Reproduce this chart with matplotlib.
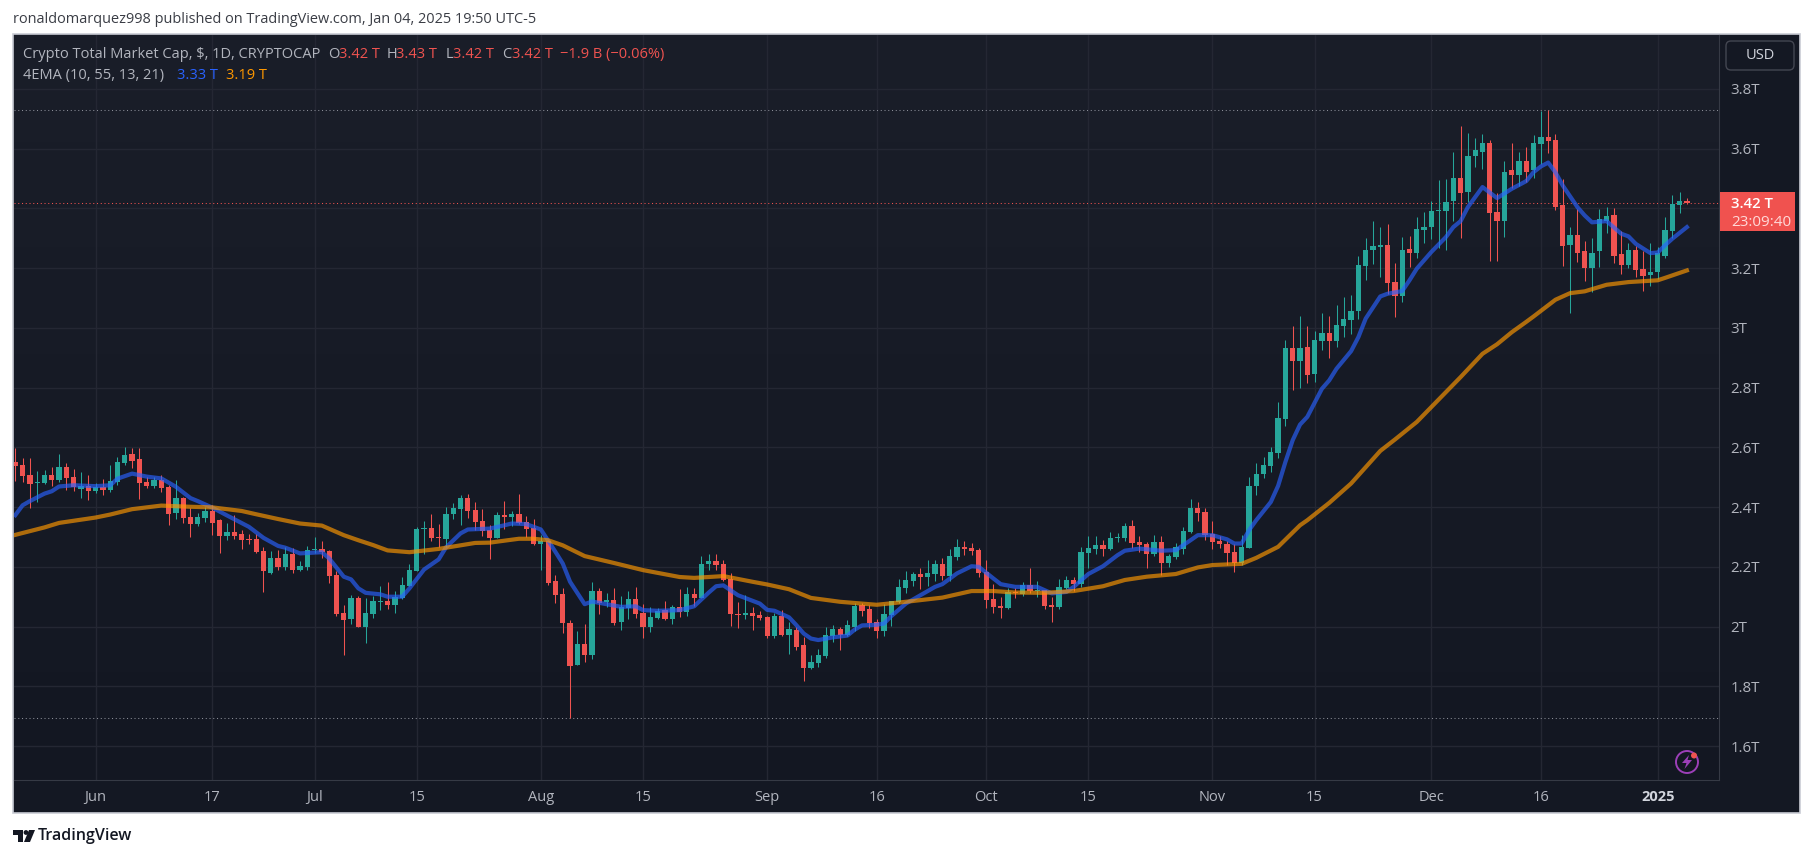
import numpy as np
import pandas as pd
import matplotlib
matplotlib.use("Agg")
import matplotlib.pyplot as plt
from matplotlib.colors import to_rgb
from matplotlib.patches import Circle, FancyBboxPatch, Polygon, Rectangle

plt.rcParams["font.family"] = ["Open Sans", "DejaVu Sans"]

# daily candles in trillions of USD, first candle 2024-05-21
START = "2024-05-21"
OPEN = [
    2.550, 2.540, 2.507, 2.480, 2.480, 2.507, 2.490, 2.534, 2.500, 2.460,
    2.470, 2.453, 2.467, 2.457, 2.483, 2.547, 2.577, 2.560, 2.483, 2.470,
    2.490, 2.467, 2.380, 2.430, 2.366, 2.343, 2.363, 2.386, 2.356, 2.303,
    2.316, 2.309, 2.293, 2.293, 2.252, 2.179, 2.229, 2.199, 2.243, 2.189,
    2.199, 2.256, 2.259, 2.252, 2.172, 2.045, 2.025, 2.095, 1.998, 2.042,
    2.083, 2.085, 2.072, 2.095, 2.135, 2.186, 2.327, 2.329, 2.299, 2.293,
    2.376, 2.393, 2.430, 2.390, 2.353, 2.323, 2.296, 2.373, 2.366, 2.376,
    2.349, 2.329, 2.276, 2.286, 2.152, 2.109, 2.012, 1.871, 1.941, 1.905,
    2.119, 2.082, 2.089, 2.015, 2.062, 2.092, 2.045, 1.998, 2.028, 2.055,
    2.025, 2.065, 2.048, 2.109, 2.095, 2.209, 2.219, 2.209, 2.159, 2.042,
    2.038, 2.045, 2.038, 2.032, 1.968, 2.035, 1.971, 1.988, 1.938, 1.861,
    1.878, 1.901, 1.968, 1.992, 1.971, 1.998, 2.072, 2.058, 2.015, 1.985,
    2.038, 2.082, 2.129, 2.152, 2.175, 2.165, 2.175, 2.209, 2.169, 2.232,
    2.266, 2.263, 2.256, 2.182, 2.092, 2.069, 2.062, 2.115, 2.109, 2.139,
    2.119, 2.122, 2.072, 2.065, 2.129, 2.155, 2.142, 2.246, 2.259, 2.273,
    2.259, 2.296, 2.296, 2.336, 2.283, 2.276, 2.242, 2.283, 2.212, 2.232,
    2.259, 2.316, 2.396, 2.383, 2.309, 2.286, 2.276, 2.249, 2.212, 2.262,
    2.470, 2.510, 2.537, 2.580, 2.694, 2.931, 2.888, 2.935, 2.844, 2.955,
    2.982, 2.955, 3.005, 3.025, 3.055, 3.206, 3.259, 3.269, 3.276, 3.152,
    3.105, 3.263, 3.252, 3.326, 3.336, 3.390, 3.390, 3.423, 3.503, 3.453,
    3.574, 3.590, 3.620, 3.386, 3.359, 3.527, 3.513, 3.557, 3.527, 3.614,
    3.640, 3.627, 3.410, 3.276, 3.309, 3.256, 3.199, 3.256, 3.359, 3.376,
    3.246, 3.209, 3.262, 3.196, 3.176, 3.186, 3.239, 3.323, 3.410, 3.423,
]
HIGH = [
    2.599, 2.563, 2.563, 2.520, 2.524, 2.534, 2.577, 2.547, 2.527, 2.517,
    2.507, 2.480, 2.493, 2.540, 2.567, 2.600, 2.597, 2.597, 2.500, 2.500,
    2.507, 2.473, 2.490, 2.433, 2.396, 2.380, 2.400, 2.406, 2.360, 2.346,
    2.373, 2.323, 2.309, 2.309, 2.266, 2.252, 2.256, 2.266, 2.263, 2.219,
    2.269, 2.299, 2.286, 2.256, 2.186, 2.072, 2.105, 2.102, 2.095, 2.102,
    2.135, 2.149, 2.119, 2.166, 2.209, 2.333, 2.353, 2.376, 2.343, 2.400,
    2.413, 2.440, 2.443, 2.416, 2.393, 2.339, 2.383, 2.420, 2.386, 2.443,
    2.370, 2.360, 2.306, 2.289, 2.172, 2.129, 2.022, 1.985, 2.008, 2.149,
    2.129, 2.112, 2.129, 2.102, 2.119, 2.132, 2.075, 2.065, 2.062, 2.085,
    2.072, 2.125, 2.132, 2.129, 2.236, 2.242, 2.242, 2.222, 2.179, 2.082,
    2.105, 2.065, 2.052, 2.035, 2.045, 2.055, 2.015, 1.998, 1.965, 1.905,
    1.925, 1.998, 2.005, 1.998, 2.022, 2.079, 2.079, 2.072, 2.025, 2.075,
    2.085, 2.159, 2.186, 2.182, 2.196, 2.222, 2.222, 2.229, 2.259, 2.293,
    2.286, 2.279, 2.263, 2.222, 2.142, 2.099, 2.129, 2.129, 2.149, 2.196,
    2.152, 2.122, 2.099, 2.159, 2.169, 2.166, 2.266, 2.303, 2.303, 2.289,
    2.316, 2.313, 2.346, 2.356, 2.303, 2.283, 2.306, 2.303, 2.242, 2.279,
    2.333, 2.426, 2.416, 2.396, 2.353, 2.303, 2.286, 2.276, 2.306, 2.500,
    2.547, 2.567, 2.600, 2.751, 2.958, 3.005, 3.038, 3.005, 2.988, 3.048,
    3.038, 3.075, 3.102, 3.109, 3.239, 3.299, 3.359, 3.339, 3.349, 3.216,
    3.303, 3.306, 3.370, 3.386, 3.426, 3.493, 3.497, 3.587, 3.674, 3.651,
    3.634, 3.647, 3.627, 3.450, 3.557, 3.620, 3.590, 3.604, 3.644, 3.727,
    3.730, 3.647, 3.497, 3.339, 3.396, 3.289, 3.299, 3.396, 3.403, 3.400,
    3.323, 3.283, 3.273, 3.256, 3.283, 3.269, 3.370, 3.443, 3.453, 3.433,
]
LOW = [
    2.487, 2.483, 2.396, 2.417, 2.477, 2.470, 2.483, 2.457, 2.453, 2.430,
    2.423, 2.447, 2.440, 2.450, 2.473, 2.540, 2.530, 2.427, 2.463, 2.463,
    2.450, 2.340, 2.360, 2.346, 2.299, 2.336, 2.350, 2.306, 2.246, 2.289,
    2.293, 2.259, 2.276, 2.246, 2.115, 2.176, 2.189, 2.189, 2.179, 2.186,
    2.189, 2.246, 2.229, 2.146, 2.035, 1.905, 2.008, 1.998, 1.945, 2.028,
    2.055, 2.059, 2.045, 2.092, 2.135, 2.186, 2.242, 2.286, 2.266, 2.266,
    2.360, 2.339, 2.363, 2.323, 2.303, 2.226, 2.296, 2.326, 2.336, 2.343,
    2.299, 2.273, 2.189, 2.139, 2.078, 1.978, 1.693, 1.871, 1.881, 1.891,
    2.042, 2.065, 2.005, 1.988, 2.025, 2.028, 1.961, 1.982, 2.025, 2.022,
    2.008, 2.032, 2.035, 2.069, 2.095, 2.189, 2.189, 2.152, 2.002, 1.995,
    2.025, 1.988, 2.022, 1.961, 1.961, 1.968, 1.908, 1.921, 1.818, 1.858,
    1.864, 1.895, 1.948, 1.921, 1.968, 1.985, 2.035, 1.995, 1.961, 1.968,
    2.002, 2.079, 2.112, 2.135, 2.125, 2.135, 2.152, 2.155, 2.152, 2.222,
    2.239, 2.239, 2.165, 2.062, 2.045, 2.028, 2.059, 2.095, 2.102, 2.112,
    2.099, 2.059, 2.016, 2.059, 2.125, 2.119, 2.132, 2.196, 2.242, 2.236,
    2.256, 2.283, 2.286, 2.262, 2.249, 2.196, 2.236, 2.172, 2.199, 2.226,
    2.242, 2.313, 2.353, 2.289, 2.259, 2.262, 2.206, 2.182, 2.206, 2.262,
    2.440, 2.497, 2.517, 2.563, 2.670, 2.791, 2.798, 2.814, 2.818, 2.925,
    2.898, 2.935, 2.968, 2.978, 3.028, 3.159, 3.212, 3.169, 3.112, 3.035,
    3.085, 3.202, 3.232, 3.283, 3.296, 3.266, 3.262, 3.356, 3.299, 3.420,
    3.537, 3.530, 3.222, 3.222, 3.303, 3.467, 3.473, 3.487, 3.500, 3.547,
    3.584, 3.393, 3.206, 3.048, 3.219, 3.155, 3.119, 3.202, 3.316, 3.216,
    3.179, 3.199, 3.169, 3.122, 3.139, 3.162, 3.232, 3.299, 3.383, 3.415,
]
CLOSE = [
    2.537, 2.503, 2.477, 2.482, 2.507, 2.490, 2.534, 2.497, 2.467, 2.470,
    2.453, 2.467, 2.457, 2.487, 2.550, 2.574, 2.554, 2.480, 2.470, 2.490,
    2.463, 2.376, 2.430, 2.363, 2.343, 2.366, 2.386, 2.346, 2.303, 2.316,
    2.303, 2.289, 2.290, 2.249, 2.186, 2.229, 2.199, 2.243, 2.189, 2.202,
    2.256, 2.258, 2.249, 2.169, 2.042, 2.022, 2.095, 1.998, 2.045, 2.085,
    2.085, 2.072, 2.099, 2.139, 2.189, 2.326, 2.329, 2.296, 2.297, 2.376,
    2.396, 2.430, 2.386, 2.349, 2.319, 2.296, 2.373, 2.366, 2.376, 2.346,
    2.326, 2.276, 2.286, 2.145, 2.105, 2.012, 1.868, 1.941, 1.905, 2.119,
    2.079, 2.089, 2.012, 2.065, 2.092, 2.042, 1.998, 2.032, 2.052, 2.025,
    2.065, 2.048, 2.109, 2.095, 2.209, 2.219, 2.206, 2.155, 2.042, 2.038,
    2.045, 2.035, 2.028, 1.968, 2.035, 1.971, 1.992, 1.931, 1.861, 1.881,
    1.905, 1.971, 1.992, 1.971, 2.005, 2.069, 2.052, 2.012, 1.985, 2.042,
    2.085, 2.132, 2.155, 2.175, 2.165, 2.179, 2.209, 2.169, 2.236, 2.266,
    2.259, 2.253, 2.179, 2.089, 2.065, 2.062, 2.115, 2.112, 2.139, 2.119,
    2.122, 2.069, 2.065, 2.132, 2.155, 2.142, 2.249, 2.262, 2.273, 2.259,
    2.296, 2.299, 2.336, 2.279, 2.273, 2.242, 2.283, 2.212, 2.236, 2.266,
    2.319, 2.396, 2.380, 2.306, 2.283, 2.276, 2.246, 2.212, 2.266, 2.470,
    2.510, 2.540, 2.584, 2.697, 2.931, 2.888, 2.931, 2.841, 2.958, 2.982,
    2.955, 3.008, 3.028, 3.055, 3.209, 3.259, 3.273, 3.276, 3.149, 3.105,
    3.259, 3.252, 3.329, 3.336, 3.390, 3.393, 3.420, 3.500, 3.450, 3.574,
    3.594, 3.620, 3.383, 3.359, 3.523, 3.510, 3.557, 3.523, 3.617, 3.640,
    3.624, 3.403, 3.273, 3.309, 3.252, 3.199, 3.252, 3.363, 3.373, 3.239,
    3.209, 3.262, 3.192, 3.172, 3.186, 3.249, 3.326, 3.413, 3.423, 3.417,
]

# EMA lines, read at these day numbers
EMA_FAST_DAY = [
    0, 1, 2, 4, 5, 6, 8, 11, 13, 14, 16, 18, 20, 22, 24, 25, 27, 29, 32, 34,
    36, 37, 39, 42, 43, 45, 46, 47, 48, 50, 51, 53, 54, 56, 58, 59, 61, 62, 65, 67,
    68, 70, 72, 74, 75, 76, 78, 79, 81, 83, 85, 86, 88, 91, 93, 95, 96, 97, 99, 102,
    103, 104, 106, 107, 108, 109, 110, 112, 114, 115, 116, 118, 119, 120, 122, 124, 126, 127, 129, 131,
    132, 134, 135, 137, 140, 142, 144, 145, 147, 149, 151, 152, 154, 157, 159, 161, 162, 164, 166, 167,
    168, 169, 170, 172, 173, 174, 175, 176, 177, 179, 180, 181, 183, 184, 185, 187, 188, 190, 191, 192,
    194, 196, 197, 198, 199, 201, 203, 205, 207, 208, 209, 210, 211, 212, 214, 215, 216, 218, 220, 221,
    222, 224, 225, 226, 227, 229,
]
EMA_FAST = [
    2.373, 2.406, 2.420, 2.445, 2.453, 2.469, 2.473, 2.470, 2.473, 2.495, 2.512, 2.502, 2.496, 2.468, 2.430, 2.420, 2.398, 2.372, 2.334, 2.297,
    2.270, 2.264, 2.245, 2.249, 2.228, 2.167, 2.158, 2.128, 2.113, 2.108, 2.100, 2.100, 2.128, 2.191, 2.225, 2.265, 2.312, 2.325, 2.328, 2.339,
    2.345, 2.343, 2.325, 2.250, 2.211, 2.150, 2.075, 2.084, 2.075, 2.066, 2.068, 2.055, 2.053, 2.055, 2.068, 2.114, 2.135, 2.138, 2.105, 2.077,
    2.056, 2.053, 2.031, 2.005, 1.977, 1.960, 1.955, 1.964, 1.970, 1.990, 2.004, 2.006, 2.010, 2.035, 2.077, 2.105, 2.133, 2.142, 2.178, 2.202,
    2.200, 2.161, 2.142, 2.133, 2.133, 2.111, 2.116, 2.133, 2.176, 2.202, 2.239, 2.254, 2.261, 2.254, 2.256, 2.289, 2.306, 2.306, 2.292, 2.278,
    2.278, 2.322, 2.356, 2.417, 2.471, 2.551, 2.624, 2.676, 2.702, 2.796, 2.824, 2.863, 2.922, 2.969, 3.031, 3.105, 3.114, 3.123, 3.159, 3.198,
    3.254, 3.304, 3.337, 3.357, 3.404, 3.471, 3.434, 3.465, 3.491, 3.521, 3.540, 3.553, 3.520, 3.476, 3.404, 3.376, 3.353, 3.357, 3.315, 3.306,
    3.281, 3.250, 3.252, 3.276, 3.298, 3.337,
]
EMA_SLOW_DAY = [
    0, 4, 6, 11, 13, 16, 20, 24, 27, 31, 33, 36, 39, 42, 45, 47, 49, 51, 54, 58,
    63, 65, 69, 71, 73, 75, 78, 82, 86, 91, 93, 97, 101, 103, 106, 109, 113, 118, 122, 127,
    131, 134, 137, 141, 145, 149, 152, 155, 159, 162, 164, 168, 170, 173, 176, 177, 180, 183, 187, 189,
    192, 194, 198, 201, 203, 205, 207, 208, 211, 213, 215, 218, 221, 225, 226, 229,
]
EMA_SLOW = [
    2.307, 2.332, 2.347, 2.365, 2.375, 2.393, 2.405, 2.401, 2.399, 2.387, 2.376, 2.360, 2.345, 2.338, 2.306, 2.289, 2.273, 2.255, 2.249, 2.260,
    2.280, 2.281, 2.294, 2.294, 2.289, 2.272, 2.236, 2.213, 2.189, 2.166, 2.163, 2.169, 2.150, 2.141, 2.125, 2.096, 2.083, 2.073, 2.083, 2.097,
    2.119, 2.119, 2.114, 2.113, 2.119, 2.135, 2.156, 2.167, 2.176, 2.198, 2.206, 2.210, 2.230, 2.267, 2.339, 2.356, 2.414, 2.479, 2.588, 2.626,
    2.685, 2.735, 2.835, 2.913, 2.945, 2.985, 3.020, 3.038, 3.094, 3.116, 3.122, 3.144, 3.153, 3.159, 3.167, 3.192,
]

HIGH_LINE = 3.73
LOW_LINE = 1.693
LAST_PRICE = 3.419

PRICE_TICKS = [1.6, 1.8, 2.0, 2.2, 2.4, 2.6, 2.8, 3.0, 3.2, 3.4, 3.6, 3.8]
PRICE_LABELS = ["1.6T", "1.8T", "2T", "2.2T", "2.4T", "2.6T", "2.8T", "3T", "3.2T", "", "3.6T", "3.8T"]
TIME_TICKS = ["2024-06-01", "2024-06-17", "2024-07-01", "2024-07-15", "2024-08-01", "2024-08-15",
              "2024-09-01", "2024-09-16", "2024-10-01", "2024-10-15", "2024-11-01", "2024-11-15",
              "2024-12-01", "2024-12-16", "2025-01-01"]
TIME_LABELS = ["Jun", "17", "Jul", "15", "Aug", "15", "Sep", "16", "Oct", "15", "Nov", "15", "Dec", "16", "2025"]

W, H = 1814, 858
UP = "#26a69a"
DOWN = "#ef5350"
TEXT = "#b2b5be"
GRID = "#242733"


def px_axes(fig, left, top, right, bottom, **kw):
    return fig.add_axes([left / W, 1 - bottom / H, (right - left) / W, (bottom - top) / H], **kw)


fig = plt.figure(figsize=(W / 100, H / 100), dpi=100, facecolor="white")

# frame behind everything, in pixel coordinates
back = px_axes(fig, 0, 0, W, H, zorder=0)
back.set_xlim(0, W)
back.set_ylim(H, 0)
back.axis("off")
back.add_patch(Rectangle((13, 34), 1787, 779, facecolor="#141823", edgecolor="#c9ccd4", linewidth=1.2))
back.text(13, 19.5, "ronaldomarquez998 published on TradingView.com, Jan 04, 2025 19:50 UTC-5",
          fontsize=10.45, color="#3a3d45", va="center", ha="left")

# price panel
ax = px_axes(fig, 13.5, 34.5, 1719, 780, zorder=1)
top_col, bot_col = np.array(to_rgb("#1a1e29")), np.array(to_rgb("#131722"))
shade = np.linspace(top_col, bot_col, 256).reshape(256, 1, 3)
ax.imshow(shade, aspect="auto", extent=(0, 1, 0, 1), transform=ax.transAxes, zorder=0)

day = np.arange(len(OPEN))
o, h, l, c = map(np.array, (OPEN, HIGH, LOW, CLOSE))
colors = [UP if cc >= oo else DOWN for oo, cc in zip(o, c)]
wicks = ax.vlines(day, l, h, colors=colors, linewidth=0.75, zorder=3)
wicks.set_snap(True)
ax.bar(day, np.maximum(np.abs(c - o), 0.004), bottom=np.minimum(o, c), width=0.72, color=colors,
       linewidth=0, zorder=3.2)

ax.plot(EMA_FAST_DAY, EMA_FAST, color="#2962ff", alpha=0.66, lw=3.0, zorder=4, solid_joinstyle="round")
ax.plot(EMA_SLOW_DAY, EMA_SLOW, color="#ff9800", alpha=0.66, lw=3.0, zorder=4.1, solid_joinstyle="round")

for price, col in ((HIGH_LINE, "#8a8d97"), (LOW_LINE, "#8a8d97"), (LAST_PRICE, DOWN)):
    ax.axhline(price, color=col, lw=0.75, linestyle=(0, (1, 2.6)), zorder=2.5)

start = pd.Timestamp(START)
tick_days = [(pd.Timestamp(d) - start).days for d in TIME_TICKS]
ax.set_xlim(-0.247, 233.4)
ax.set_ylim(1.4866, 3.9816)
ax.set_xticks(tick_days)
ax.set_xticklabels(TIME_LABELS, fontsize=10.5, color=TEXT)
ax.set_yticks(PRICE_TICKS)
ax.set_yticklabels(PRICE_LABELS, fontsize=10.8, color=TEXT, ha="left")
ax.yaxis.tick_right()
ax.tick_params(axis="x", length=0, pad=7.5)
ax.tick_params(axis="y", length=0, pad=8)
ax.get_xticklabels()[-1].set_fontweight("bold")
ax.get_xticklabels()[-1].set_color("#d1d4dc")
ax.grid(True, color=GRID, linewidth=1.0, zorder=1)
ax.set_axisbelow(True)
for side, spine in ax.spines.items():
    spine.set_visible(side in ("right", "bottom"))
    spine.set_color("#363a45")
    spine.set_linewidth(0.8)

# overlay: legend text, last price tag, USD button, logo
over = px_axes(fig, 0, 0, W, H, zorder=2)
over.set_xlim(0, W)
over.set_ylim(H, 0)
over.axis("off")
over.patch.set_alpha(0)

legend_row = [
    (23, "Crypto Total Market Cap, $, 1D, CRYPTOCAP", TEXT),
    (328, "O", TEXT), (339, "3.42 T", DOWN),
    (387, "H", TEXT), (396, "3.43 T", DOWN),
    (446, "L", TEXT), (453, "3.42 T", DOWN),
    (502, "C", TEXT), (512, "3.42 T", DOWN),
    (560, "\u22121.9 B (\u22120.06%)", DOWN),
]
for x, txt, col in legend_row:
    over.text(x, 54.5, txt, fontsize=10.5, color=col, va="center", ha="left")
for x, txt, col in [(23, "4EMA (10, 55, 13, 21)", TEXT), (177, "3.33 T", "#2962ff"), (226, "3.19 T", "#ff9800")]:
    over.text(x, 75.5, txt, fontsize=10.5, color=col, va="center", ha="left")

over.add_patch(Rectangle((1720, 192), 75, 39, facecolor="#f0524f", edgecolor="none"))
over.text(1731, 203.5, "3.42 T", fontsize=10.8, color="white", fontweight="semibold", va="center", ha="left")
over.text(1731, 222, "23:09:40", fontsize=11, color="#ffd9d8", va="center", ha="left")

over.add_patch(FancyBboxPatch((1726, 41), 68, 29, boxstyle="round,pad=0,rounding_size=5",
                              facecolor="#141823", edgecolor="#434651", linewidth=1))
over.text(1760, 55.5, "USD", fontsize=10.5, color="#d1d4dc", va="center", ha="center")

# flash icon bottom right of the price panel
over.add_patch(Circle((1687, 762), 11, facecolor="none", edgecolor="#9c3fb8", linewidth=1.4))
over.add_patch(Polygon([(1689, 755), (1682, 763), (1686.5, 763), (1684.5, 769), (1692, 760), (1687.5, 760)],
                       closed=True, facecolor="#9c3fb8", edgecolor="none"))
over.add_patch(Circle((1694, 755.5), 3, facecolor=DOWN, edgecolor="none"))

# TradingView mark and name
logo = "#131722"
over.add_patch(Polygon([(13, 830), (23, 830), (23, 842), (18, 842), (18, 835), (13, 835)], closed=True,
                       facecolor=logo, edgecolor="none"))
over.add_patch(Circle((26, 832.5), 2.4, facecolor=logo, edgecolor="none"))
over.add_patch(Polygon([(29, 830), (35, 830), (30, 842), (24, 842)], closed=True, facecolor=logo, edgecolor="none"))
over.text(38, 836.5, "TradingView", fontsize=11.5, color=logo, fontweight="semibold", va="center", ha="left")

fig.savefig("out.png", dpi=100, facecolor="white")
